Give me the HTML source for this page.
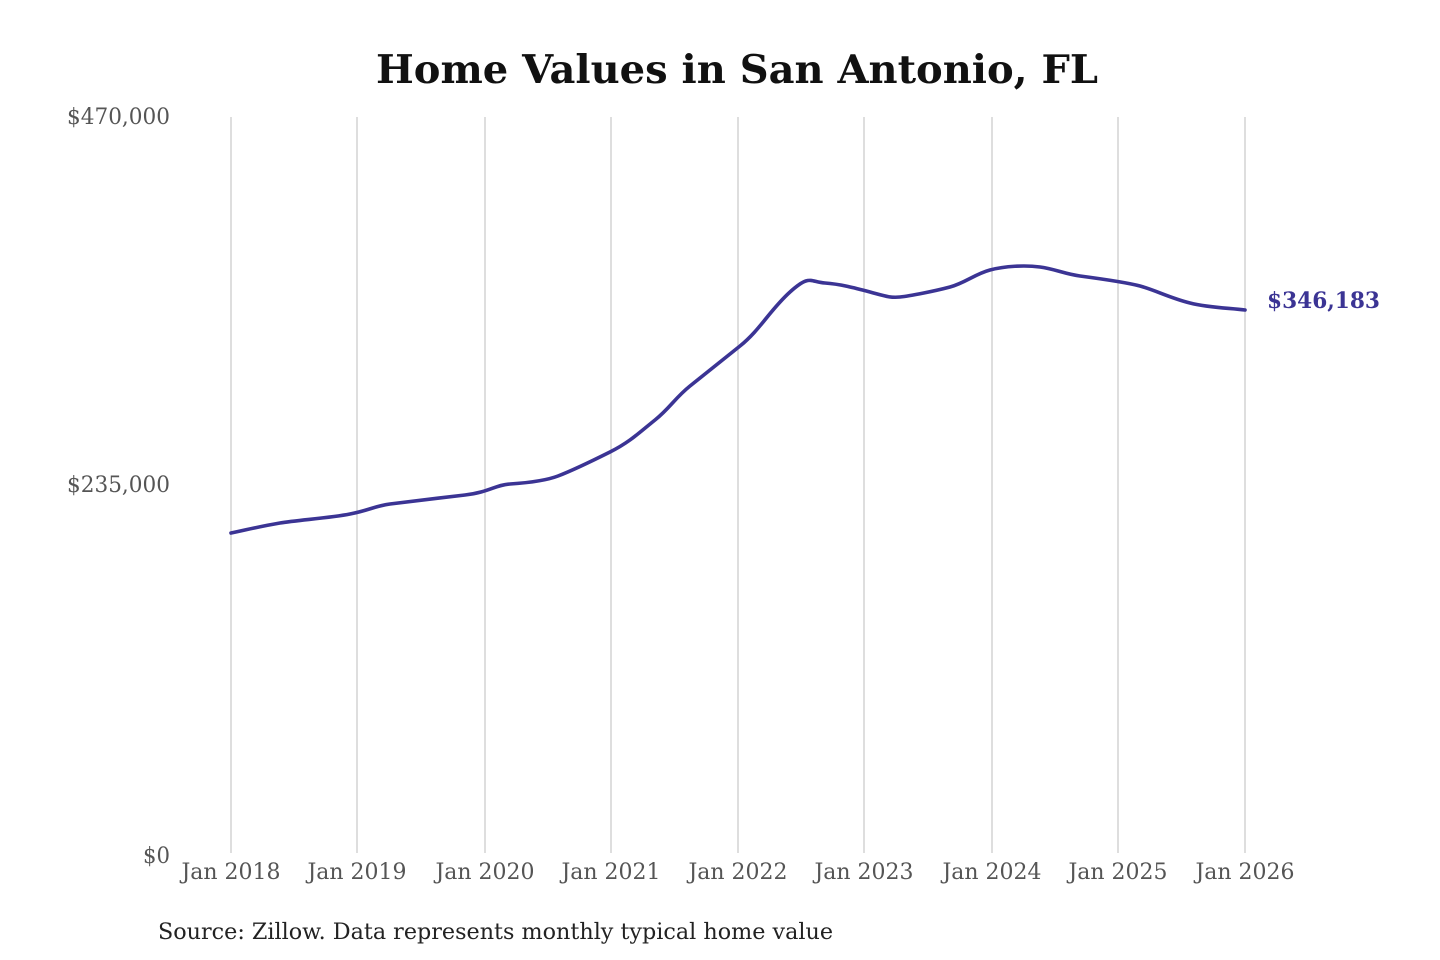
<!DOCTYPE html>
<html><head><meta charset="utf-8"><style>
body{margin:0;background:#fff;}
svg{display:block;}
text{font-family:"DejaVu Serif","Liberation Serif",serif;}
</style></head><body>
<svg width="1440" height="960" viewBox="0 0 1440 960" xmlns="http://www.w3.org/2000/svg">
<rect width="1440" height="960" fill="#fff"/>
<text x="737" y="83" text-anchor="middle" font-size="39" font-weight="bold" fill="#111" textLength="722" lengthAdjust="spacingAndGlyphs">Home Values in San Antonio, FL</text>
<g stroke="#c8c8c8" stroke-width="1.2">
<line x1="231" y1="117" x2="231" y2="853"/><line x1="357" y1="117" x2="357" y2="853"/>
<line x1="485" y1="117" x2="485" y2="853"/><line x1="611" y1="117" x2="611" y2="853"/>
<line x1="738" y1="117" x2="738" y2="853"/><line x1="864" y1="117" x2="864" y2="853"/>
<line x1="992" y1="117" x2="992" y2="853"/><line x1="1118" y1="117" x2="1118" y2="853"/>
<line x1="1245" y1="117" x2="1245" y2="853"/>
</g>
<g font-size="22" fill="#555" text-anchor="end">
<text x="170" y="124" textLength="103" lengthAdjust="spacingAndGlyphs">$470,000</text>
<text x="170" y="492" textLength="103" lengthAdjust="spacingAndGlyphs">$235,000</text>
<text x="170" y="863" textLength="27" lengthAdjust="spacingAndGlyphs">$0</text>
</g>
<g font-size="22" fill="#555" text-anchor="middle">
<text x="231" y="879" textLength="99" lengthAdjust="spacingAndGlyphs">Jan 2018</text>
<text x="357" y="879" textLength="99" lengthAdjust="spacingAndGlyphs">Jan 2019</text>
<text x="485" y="879" textLength="99" lengthAdjust="spacingAndGlyphs">Jan 2020</text>
<text x="611" y="879" textLength="99" lengthAdjust="spacingAndGlyphs">Jan 2021</text>
<text x="738" y="879" textLength="99" lengthAdjust="spacingAndGlyphs">Jan 2022</text>
<text x="864" y="879" textLength="99" lengthAdjust="spacingAndGlyphs">Jan 2023</text>
<text x="992" y="879" textLength="99" lengthAdjust="spacingAndGlyphs">Jan 2024</text>
<text x="1118" y="879" textLength="99" lengthAdjust="spacingAndGlyphs">Jan 2025</text>
<text x="1245" y="879" textLength="99" lengthAdjust="spacingAndGlyphs">Jan 2026</text>
</g>
<path fill="none" stroke="#3b3494" stroke-width="3.6" stroke-linejoin="round" stroke-linecap="round"
d="M231,533 C250,529 262,526 280,523 S330,518 350,514 S375,506 390,504 S440,498 465,495 S495,485 510,484 S545,481 558,476 S590,462 610,452 S640,432 655,420 S675,398 690,386 S720,362 740,346 S770,310 790,292 S810,282 825,283 S855,288 870,292 S890,298 900,297 S935,291 950,287 S975,274 990,270 S1025,265 1040,267 S1065,274 1080,276 S1125,282 1140,286 S1170,298 1190,303 S1230,308 1245,310"/>
<text x="1267" y="308" font-size="22" font-weight="bold" fill="#3b3494" textLength="113" lengthAdjust="spacingAndGlyphs">$346,183</text>
<text x="158" y="939" font-size="22" fill="#222" textLength="675" lengthAdjust="spacingAndGlyphs">Source: Zillow. Data represents monthly typical home value</text>
</svg>
</body></html>
